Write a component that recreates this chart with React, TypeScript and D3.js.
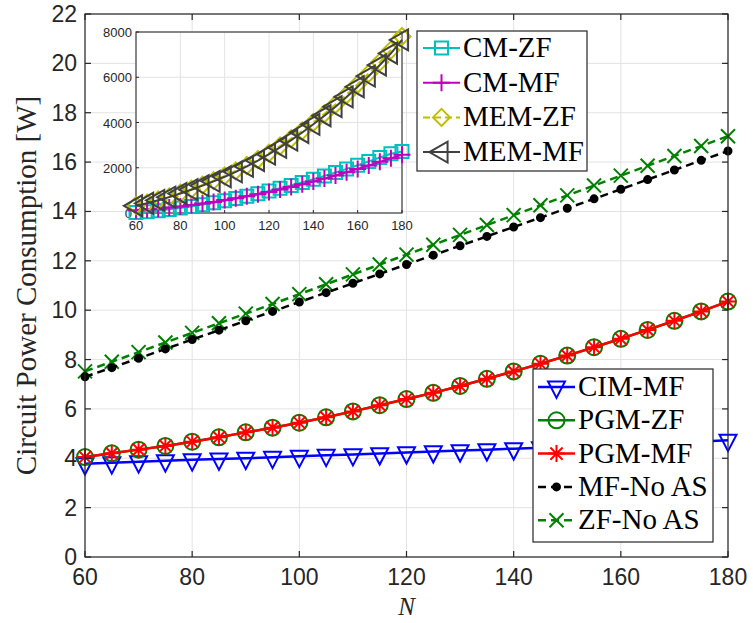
import React from "react";
import * as d3 from "d3";

const N = [60, 65, 70, 75, 80, 85, 90, 95, 100, 105, 110, 115, 120, 125, 130, 135, 140, 145, 150, 155, 160, 165, 170, 175, 180];

const cimMF = [3.78, 3.82, 3.86, 3.9, 3.94, 3.97, 4.0, 4.04, 4.08, 4.12, 4.15, 4.19, 4.23, 4.27, 4.31, 4.35, 4.39, 4.43, 4.47, 4.51, 4.55, 4.59, 4.63, 4.68, 4.73];
const pgmZF = [4.05, 4.2, 4.35, 4.5, 4.67, 4.85, 5.05, 5.24, 5.44, 5.66, 5.9, 6.15, 6.4, 6.65, 6.93, 7.22, 7.52, 7.83, 8.16, 8.5, 8.84, 9.2, 9.57, 9.95, 10.35];
const pgmMF = [4.05, 4.2, 4.35, 4.5, 4.67, 4.85, 5.05, 5.24, 5.44, 5.66, 5.9, 6.15, 6.4, 6.65, 6.93, 7.22, 7.52, 7.83, 8.16, 8.5, 8.84, 9.2, 9.57, 9.95, 10.35];
const mfNoAS = [7.3, 7.67, 8.05, 8.43, 8.81, 9.19, 9.57, 9.95, 10.33, 10.71, 11.09, 11.47, 11.85, 12.23, 12.61, 12.99, 13.37, 13.75, 14.13, 14.51, 14.9, 15.29, 15.68, 16.07, 16.45];
const zfNoAS = [7.52, 7.91, 8.3, 8.69, 9.08, 9.47, 9.86, 10.25, 10.65, 11.05, 11.45, 11.85, 12.25, 12.65, 13.05, 13.45, 13.85, 14.25, 14.65, 15.05, 15.45, 15.85, 16.25, 16.65, 17.05];

const cmZF = [20, 50, 100, 160, 220, 290, 370, 450, 540, 640, 740, 850, 970, 1090, 1220, 1350, 1490, 1640, 1790, 1950, 2110, 2280, 2450, 2620, 2720];
const cmMF = [120, 150, 190, 240, 290, 350, 420, 490, 570, 650, 740, 830, 930, 1040, 1150, 1270, 1390, 1520, 1660, 1800, 1950, 2100, 2260, 2420, 2570];
const memZF = [330, 440, 575, 715, 880, 1050, 1235, 1430, 1635, 1860, 2100, 2365, 2650, 2960, 3285, 3630, 4000, 4385, 4795, 5230, 5690, 6170, 6670, 7200, 7800];
const memMF = [320, 430, 560, 700, 860, 1030, 1210, 1400, 1600, 1820, 2060, 2320, 2600, 2900, 3220, 3560, 3920, 4300, 4700, 5130, 5580, 6050, 6540, 7060, 7650];

const mainXTicks = [60, 80, 100, 120, 140, 160, 180];
const mainYTicks = [0, 2, 4, 6, 8, 10, 12, 14, 16, 18, 20, 22];
const insetXTicks = [60, 80, 100, 120, 140, 160, 180];
const insetYTicks = [0, 2000, 4000, 6000, 8000];

const mainLegend = ["CIM-MF", "PGM-ZF", "PGM-MF", "MF-No AS", "ZF-No AS"];
const insetLegend = ["CM-ZF", "CM-MF", "MEM-ZF", "MEM-MF"];

type Marker = "tridown" | "circle" | "asterisk" | "dot" | "x" | "square" | "plus" | "diamond" | "trileft";

function markerPath(m: Marker, s: number): string {
  switch (m) {
    case "tridown": {
      const w = s * 0.5;
      return `M${-w},${-s * 0.32}L${w},${-s * 0.32}L0,${s * 0.64}Z`;
    }
    case "trileft": {
      const h = s * 0.55;
      return `M${-s * 0.64},0L${s * 0.32},${-h}L${s * 0.32},${h}Z`;
    }
    case "circle": {
      const r = s / 2;
      return `M${r},0A${r},${r} 0 1,1 ${-r},0A${r},${r} 0 1,1 ${r},0Z`;
    }
    case "square": {
      const h = s / 2;
      return `M${-h},${-h}L${h},${-h}L${h},${h}L${-h},${h}Z`;
    }
    case "diamond": {
      const h = s / 2;
      return `M0,${-h}L${h},0L0,${h}L${-h},0Z`;
    }
    case "plus": {
      const h = s / 2;
      return `M${-h},0L${h},0M0,${-h}L0,${h}`;
    }
    case "x": {
      const h = s / 2;
      return `M${-h},${-h}L${h},${h}M${-h},${h}L${h},${-h}`;
    }
    case "asterisk": {
      const h = s / 2;
      const d = h * 0.72;
      return `M${-h},0L${h},0M0,${-h}L0,${h}M${-d},${-d}L${d},${d}M${-d},${d}L${d},${-d}`;
    }
    case "dot": {
      const r = s / 2;
      return `M${r},0A${r},${r} 0 1,1 ${-r},0A${r},${r} 0 1,1 ${r},0Z`;
    }
  }
}

interface Series {
  name: string;
  values: number[];
  color: string;
  dash?: string;
  marker: Marker;
  size: number;
  fillMarker?: boolean;
}

const textColor = "#262626";
const gridColor = "#e3e3e3";

export default function App() {
  const x = d3.scaleLinear().domain([60, 180]).range([85, 728]);
  const y = d3.scaleLinear().domain([0, 22]).range([557, 14]);
  const xi = d3.scaleLinear().domain([60, 180]).range([136, 402]);
  const yi = d3.scaleLinear().domain([0, 8000]).range([213, 32]);

  const mainSeries: Series[] = [
    { name: mainLegend[0], values: cimMF, color: "#0000ff", marker: "tridown", size: 17 },
    { name: mainLegend[1], values: pgmZF, color: "#008000", marker: "circle", size: 16 },
    { name: mainLegend[2], values: pgmMF, color: "#ff0000", marker: "asterisk", size: 17 },
    { name: mainLegend[3], values: mfNoAS, color: "#000000", dash: "8,5", marker: "dot", size: 7, fillMarker: true },
    { name: mainLegend[4], values: zfNoAS, color: "#008000", dash: "8,5", marker: "x", size: 14 },
  ];
  const insetSeries: Series[] = [
    { name: insetLegend[0], values: cmZF, color: "#00bfbf", marker: "square", size: 13 },
    { name: insetLegend[1], values: cmMF, color: "#bf00bf", marker: "plus", size: 17 },
    { name: insetLegend[2], values: memZF, color: "#bfbf00", dash: "7,4", marker: "diamond", size: 17 },
    { name: insetLegend[3], values: memMF, color: "#404040", marker: "trileft", size: 19 },
  ];

  const drawOrderMain = [4, 3, 0, 1, 2];

  const renderSeries = (s: Series, xs: d3.ScaleLinear<number, number>, ys: d3.ScaleLinear<number, number>, lw: number, mlw: number, key: string) => {
    const line = d3.line<number>().x((_, i) => xs(N[i])).y((v) => ys(v));
    return (
      <g key={key}>
        <path d={line(s.values) || ""} fill="none" stroke={s.color} strokeWidth={lw} strokeDasharray={s.dash} />
        {s.values.map((v, i) => (
          <path
            key={i}
            transform={`translate(${xs(N[i])},${ys(v)})`}
            d={markerPath(s.marker, s.size)}
            fill={s.fillMarker ? s.color : "none"}
            stroke={s.color}
            strokeWidth={mlw}
          />
        ))}
      </g>
    );
  };

  const tickLen = 6;

  return (
    <svg width={753} height={623} style={{ position: "absolute", left: 0, top: 0, background: "#fff" }}>
      <rect x={0} y={0} width={753} height={623} fill="#fff" />
      {mainXTicks.map((t) => (
        <line key={"gx" + t} x1={x(t)} x2={x(t)} y1={y(0)} y2={y(22)} stroke={gridColor} strokeWidth={1} />
      ))}
      {mainYTicks.map((t) => (
        <line key={"gy" + t} x1={x(60)} x2={x(180)} y1={y(t)} y2={y(t)} stroke={gridColor} strokeWidth={1} />
      ))}
      {drawOrderMain.map((i) => renderSeries(mainSeries[i], x, y, 2.5, 2, "m" + i))}
      <rect x={x(60)} y={y(22)} width={x(180) - x(60)} height={y(0) - y(22)} fill="none" stroke={textColor} strokeWidth={1.2} />
      {mainXTicks.map((t) => (
        <g key={"tx" + t}>
          <line x1={x(t)} x2={x(t)} y1={y(0)} y2={y(0) - tickLen} stroke={textColor} strokeWidth={1.2} />
          <line x1={x(t)} x2={x(t)} y1={y(22)} y2={y(22) + tickLen} stroke={textColor} strokeWidth={1.2} />
          <text x={x(t)} y={y(0) + 28} textAnchor="middle" fontFamily="Liberation Sans, Arial, sans-serif" fontSize={23} fill={textColor}>
            {t}
          </text>
        </g>
      ))}
      {mainYTicks.map((t) => (
        <g key={"ty" + t}>
          <line x1={x(60)} x2={x(60) + tickLen} y1={y(t)} y2={y(t)} stroke={textColor} strokeWidth={1.2} />
          <line x1={x(180)} x2={x(180) - tickLen} y1={y(t)} y2={y(t)} stroke={textColor} strokeWidth={1.2} />
          <text x={x(60) - 8} y={y(t) + 8} textAnchor="end" fontFamily="Liberation Sans, Arial, sans-serif" fontSize={23} fill={textColor}>
            {t}
          </text>
        </g>
      ))}
      <text
        transform={`translate(${36},${(y(0) + y(22)) / 2}) rotate(-90)`}
        textAnchor="middle"
        fontFamily="Liberation Serif, Times New Roman, serif"
        fontSize={29}
        fill={textColor}
      >
        Circuit Power Consumption [W]
      </text>
      <text x={(x(60) + x(180)) / 2} y={615} textAnchor="middle" fontFamily="Liberation Serif, serif" fontStyle="italic" fontSize={25} fill={textColor}>
        N
      </text>

      {/* inset */}
      <rect x={xi(60)} y={yi(8000)} width={xi(180) - xi(60)} height={yi(0) - yi(8000)} fill="#fff" />
      {insetXTicks.map((t) => (
        <line key={"igx" + t} x1={xi(t)} x2={xi(t)} y1={yi(0)} y2={yi(8000)} stroke={gridColor} strokeWidth={1} />
      ))}
      {insetYTicks.map((t) => (
        <line key={"igy" + t} x1={xi(60)} x2={xi(180)} y1={yi(t)} y2={yi(t)} stroke={gridColor} strokeWidth={1} />
      ))}
      <rect x={xi(60)} y={yi(8000)} width={xi(180) - xi(60)} height={yi(0) - yi(8000)} fill="none" stroke="#404040" strokeWidth={1.2} />
      {insetXTicks.map((t) => (
        <g key={"itx" + t}>
          <line x1={xi(t)} x2={xi(t)} y1={yi(0)} y2={yi(0) - 3} stroke={textColor} />
          <text x={xi(t)} y={yi(0) + 17} textAnchor="middle" fontFamily="Liberation Sans, Arial, sans-serif" fontSize={13} fill={textColor}>
            {t}
          </text>
        </g>
      ))}
      {insetYTicks.map((t) => (
        <g key={"ity" + t}>
          <line x1={xi(60)} x2={xi(60) + 3} y1={yi(t)} y2={yi(t)} stroke={textColor} />
          <text x={xi(60) - 4} y={yi(t) + 5} textAnchor="end" fontFamily="Liberation Sans, Arial, sans-serif" fontSize={13} fill={textColor}>
            {t}
          </text>
        </g>
      ))}
      {insetSeries.map((s, i) => renderSeries(s, xi, yi, 2, 2, "i" + i))}

      {/* inset legend */}
      <g>
        <rect x={417} y={31} width={170} height={140} fill="#fff" stroke={textColor} strokeWidth={1.2} />
        {insetSeries.map((s, i) => {
          const cy = 48 + i * 34.7;
          return (
            <g key={"il" + i}>
              <line x1={423} x2={460} y1={cy} y2={cy} stroke={s.color} strokeWidth={2} strokeDasharray={s.dash} />
              <path transform={`translate(${441.5},${cy})`} d={markerPath(s.marker, s.size)} fill="none" stroke={s.color} strokeWidth={2} />
              <text x={463} y={cy + 9} fontFamily="Liberation Serif, Times New Roman, serif" fontSize={29} fill="#000">
                {s.name}
              </text>
            </g>
          );
        })}
      </g>

      {/* main legend */}
      <g>
        <rect x={533} y={369} width={180} height={173} fill="#fff" stroke={textColor} strokeWidth={1.2} />
        {mainSeries.map((s, i) => {
          const cy = 387 + i * 33.3;
          return (
            <g key={"ml" + i}>
              <line x1={538} x2={575} y1={cy} y2={cy} stroke={s.color} strokeWidth={2.5} strokeDasharray={s.dash} />
              <path
                transform={`translate(${556.5},${cy})`}
                d={markerPath(s.marker, s.size)}
                fill={s.fillMarker ? s.color : "none"}
                stroke={s.color}
                strokeWidth={2}
              />
              <text x={578} y={cy + 9} fontFamily="Liberation Serif, Times New Roman, serif" fontSize={29} fill="#000">
                {s.name}
              </text>
            </g>
          );
        })}
      </g>
    </svg>
  );
}
